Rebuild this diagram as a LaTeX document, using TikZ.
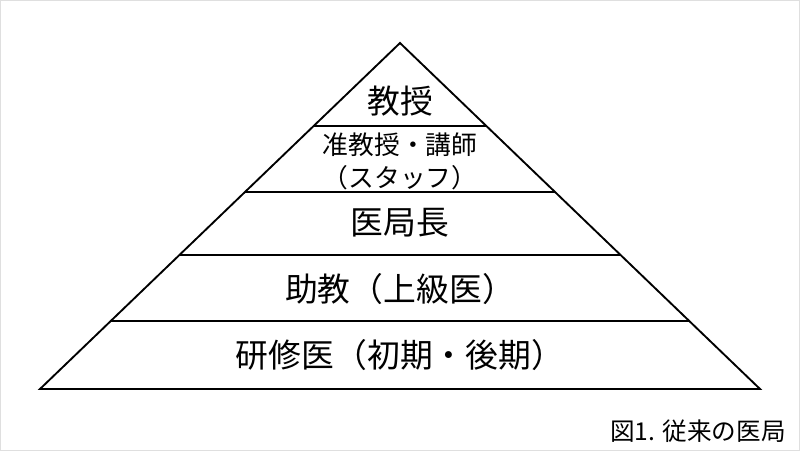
\documentclass[tikz,border=0pt]{standalone}
\usepackage{fontspec}
\setmainfont{Noto Sans CJK JP}
\usetikzlibrary{calc}
\tikzset{
  edge/.style={line width=1.6pt,line join=miter},
  lvl/.style={inner sep=0pt,align=center},
  big/.style={lvl,font=\fontsize{28pt}{32pt}\selectfont},
  mid/.style={lvl,font=\fontsize{22pt}{28pt}\selectfont},
  capt/.style={inner sep=0pt,anchor=east,font=\fontsize{21pt}{24pt}\selectfont}
}

\begin{document}
\begin{tikzpicture}[x=0.03cm,y=-0.03cm]
\useasboundingbox (0,0) rectangle (800,451);
\draw[gray!25,line width=0.8pt] (0.5,0.5) rectangle (799.5,450.5);
% pyramid outline
\coordinate (apex) at (400,43);
\coordinate (bl) at (40,389);
\coordinate (br) at (760,389);
\draw[edge] (apex) -- (bl) -- (br) -- cycle;
% layer borders
\foreach \yy/\nm in {126/a,192/b,255/c,321/d}{
  \coordinate (l\nm) at ($(apex)!{(\yy-43)/346}!(bl)$);
  \coordinate (r\nm) at ($(apex)!{(\yy-43)/346}!(br)$);
  \draw[edge] (l\nm) -- (r\nm);
}
% labels
\node[big] (prof) at (400,101) {教授};
\node[mid] (assoc) at (400,161) {准教授・講師\\（スタッフ）};
\node[big] (chief) at (400,223) {医局長};
\node[big] (asst) at (400,289) {助教（上級医）};
\node[big] (resid) at (400,355) {研修医（初期・後期）};
\node[capt] (cap) at (786,431) {図1. 従来の医局};
\end{tikzpicture}
\end{document}
